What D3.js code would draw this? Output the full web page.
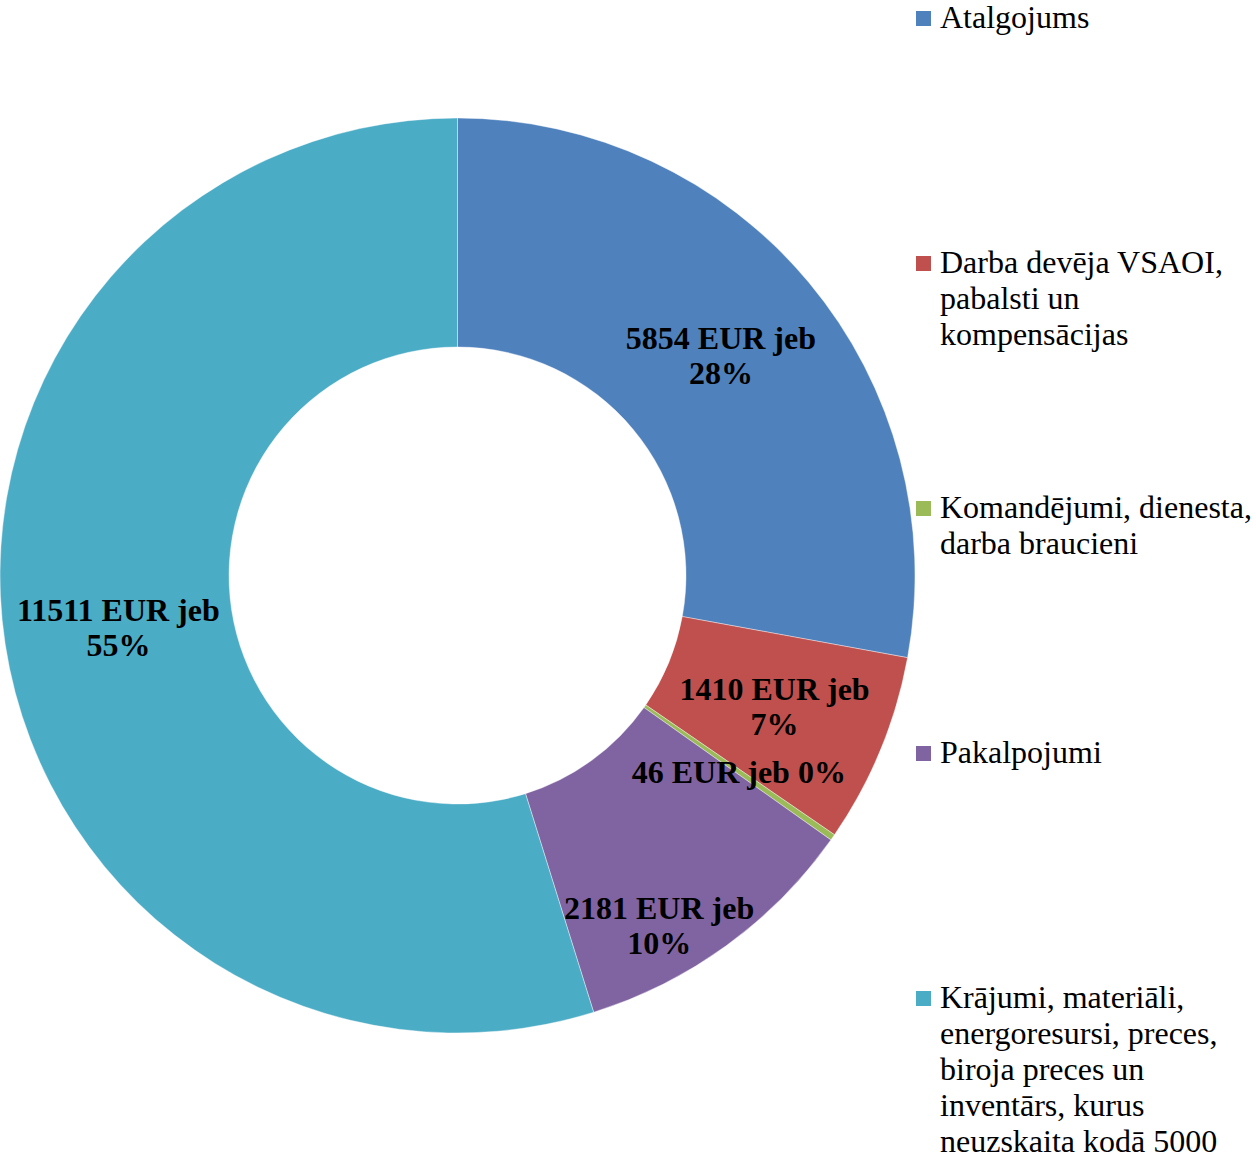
<!DOCTYPE html>
<html>
<head>
<meta charset="utf-8">
<script src="https://cdn.jsdelivr.net/npm/d3@7"></script>
<style>
  html, body { margin: 0; padding: 0; background: #fff; }
  svg { display: block; }
</style>
</head>
<body>
<svg id="chart" width="1256" height="1160"></svg>
<script>
// Legend lines per category (as wrapped in the reference)
const categoryLines = [
  ["Atalgojums"],
  ["Darba devēja VSAOI,", "pabalsti un", "kompensācijas"],
  ["Komandējumi, dienesta,", "darba braucieni"],
  ["Pakalpojumi"],
  ["Krājumi, materiāli,", "energoresursi, preces,", "biroja preces un", "inventārs, kurus", "neuzskaita kodā 5000"]
];
const categories = categoryLines.map(l => l.join(" "));
const values = [5854, 1410, 46, 2181, 11511];
const colors = ["#4F81BD", "#C0504D", "#9BBB59", "#8064A2", "#4BACC6"];

const svg = d3.select("#chart");
const cx = 457.5, cy = 575.5;
const outerR = 457.5, innerR = 228.5;
const fontFamily = "'Liberation Serif', 'Times New Roman', serif";
const fontSize = 32;

const total = d3.sum(values);
const data = categories.map((c, i) => ({ name: c, lines: categoryLines[i], value: values[i], color: colors[i], i }));

const pie = d3.pie().sort(null).value(d => d.value);
const arcs = pie(data);
const arc = d3.arc().innerRadius(innerR).outerRadius(outerR);
const labelArc = d3.arc().innerRadius((innerR + outerR) / 2).outerRadius((innerR + outerR) / 2);

const g = svg.append("g").attr("transform", `translate(${cx},${cy})`);
g.selectAll("path.slice").data(arcs).enter().append("path")
  .attr("class", "slice")
  .attr("d", arc)
  .attr("fill", d => d.data.color)
  .attr("stroke", "#ffffff")
  .attr("stroke-width", 0.4);

// data labels
const labelNudge = { 3: [0, 73] };
const lh = 35;
arcs.forEach(a => {
  const pct = Math.round(a.data.value / total * 100);
  const share = a.data.value / total;
  const lines = share < 0.01
    ? [`${a.data.value} EUR jeb ${pct}%`]
    : [`${a.data.value} EUR jeb`, `${pct}%`];
  const [x0, y0] = labelArc.centroid(a);
  const nd = labelNudge[a.data.i] || [0, 0];
  const x = x0 + nd[0], y = y0 + nd[1];
  const t = g.append("text")
    .attr("text-anchor", "middle")
    .attr("font-family", fontFamily)
    .attr("font-weight", "bold")
    .attr("font-size", fontSize)
    .attr("fill", "#000");
  lines.forEach((ln, k) => {
    t.append("tspan")
      .attr("x", x)
      .attr("y", y - (lines.length - 1) * lh / 2 + k * lh + 11)
      .text(ln);
  });
});

// legend
const legend = svg.append("g");
const legX = 916, legTextX = 940, legFirstBase = 28, legStep = 245, legLH = 36;
data.forEach((d, i) => {
  const base = legFirstBase + i * legStep;
  legend.append("rect")
    .attr("x", legX).attr("y", base - 17)
    .attr("width", 15).attr("height", 15)
    .attr("fill", d.color);
  const t = legend.append("text")
    .attr("font-family", fontFamily)
    .attr("font-size", fontSize)
    .attr("fill", "#000");
  d.lines.forEach((ln, k) => {
    t.append("tspan").attr("x", legTextX).attr("y", base + k * legLH).text(ln);
  });
});
</script>
</body>
</html>
